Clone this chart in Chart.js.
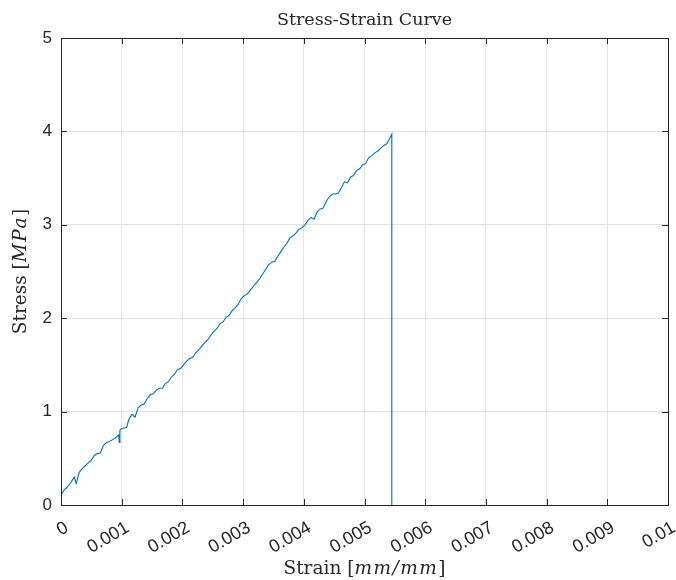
<!DOCTYPE html>
<html>
<head>
<meta charset="utf-8">
<script src="https://cdn.jsdelivr.net/npm/chart.js@4/dist/chart.umd.min.js"></script>
<style>
  body { margin: 0; background: #fff; }
  canvas { display: block; }
</style>
</head>
<body>
<canvas id="stressChart" width="676" height="580"></canvas>
<script>
// strain [mm/mm] and stress [MPa]
const strain = [
    0, 0.00005, 0.0001, 0.00015, 0.0002, 0.00022, 0.00025, 0.0003, 0.00035, 0.0004,
    0.00045, 0.0005, 0.00055, 0.0006, 0.00065, 0.0007, 0.00075, 0.0008, 0.00085, 0.0009,
    0.00095, 0.00096, 0.00097, 0.001, 0.00108, 0.00112, 0.00117, 0.00122, 0.00127, 0.00132,
    0.00137, 0.00142, 0.00147, 0.00152, 0.00157, 0.00162, 0.00167, 0.00172, 0.00177, 0.00182,
    0.00187, 0.00192, 0.00197, 0.00202, 0.00207, 0.00212, 0.00217, 0.00222, 0.00227, 0.00232,
    0.00237, 0.00242, 0.00247, 0.00252, 0.00257, 0.00262, 0.00267, 0.00272, 0.00277, 0.00282,
    0.00287, 0.00292, 0.00297, 0.00302, 0.00307, 0.00312, 0.00317, 0.00322, 0.00327, 0.00332,
    0.00337, 0.00342, 0.00347, 0.00352, 0.00357, 0.00362, 0.00367, 0.00372, 0.00377, 0.00382,
    0.00387, 0.00392, 0.00397, 0.00402, 0.00407, 0.00412, 0.00417, 0.00422, 0.00427, 0.00432,
    0.00437, 0.00442, 0.00447, 0.00452, 0.00457, 0.00462, 0.00467, 0.00472, 0.00477, 0.00482,
    0.00487, 0.00492, 0.00497, 0.00502, 0.00507, 0.00512, 0.00517, 0.00522, 0.00527, 0.00532,
    0.00537, 0.00542, 0.00545, 0.00545
];
const stress = [
    0.11, 0.16, 0.19, 0.23, 0.28, 0.30, 0.23, 0.35, 0.39, 0.42,
    0.45, 0.48, 0.53, 0.55, 0.56, 0.64, 0.67, 0.68, 0.70, 0.72,
    0.75, 0.67, 0.80, 0.82, 0.83, 0.92, 0.97, 0.94, 1.04, 1.07,
    1.08, 1.14, 1.18, 1.19, 1.23, 1.25, 1.25, 1.30, 1.32, 1.37,
    1.40, 1.45, 1.46, 1.50, 1.54, 1.57, 1.58, 1.63, 1.66, 1.70,
    1.74, 1.77, 1.82, 1.86, 1.89, 1.94, 1.96, 2.01, 2.03, 2.08,
    2.11, 2.15, 2.21, 2.24, 2.26, 2.30, 2.34, 2.38, 2.42, 2.47,
    2.52, 2.57, 2.60, 2.61, 2.66, 2.71, 2.76, 2.80, 2.86, 2.88,
    2.91, 2.95, 2.97, 3.00, 3.05, 3.08, 3.06, 3.14, 3.17, 3.18,
    3.25, 3.30, 3.33, 3.33, 3.34, 3.40, 3.46, 3.45, 3.51, 3.53,
    3.58, 3.60, 3.64, 3.66, 3.72, 3.74, 3.77, 3.79, 3.82, 3.85,
    3.87, 3.93, 3.97, 0
];
const xTicks = [0, 0.001, 0.002, 0.003, 0.004, 0.005, 0.006, 0.007, 0.008, 0.009, 0.01];
const yTicks = [0, 1, 2, 3, 4, 5];

const axisColor = '#262626';
const serif = '"DejaVu Serif", "Liberation Serif", serif';
const sans = '"Liberation Sans", Arial, sans-serif';

// draw text pieces one after another (normal + italic for the math parts)
function drawPieces(ctx, pieces, size) {
    const setFont = p => {
        ctx.font = (p.italic ? 'italic ' : '') + size + 'px ' + serif;
        ctx.letterSpacing = p.italic ? '1.5px' : '0px';
    };
    let total = 0;
    pieces.forEach(p => {
        setFont(p);
        p.w = ctx.measureText(p.text).width;
        total += p.w;
    });
    let x = -total / 2;
    pieces.forEach(p => {
        setFont(p);
        ctx.fillText(p.text, x, 0);
        x += p.w;
    });
    ctx.letterSpacing = '0px';
}

// MATLAB-ish frame: box, inward ticks, title and axis labels
const matlabFrame = {
    id: 'matlabFrame',
    afterDraw(chart) {
        const { ctx, chartArea: a, scales } = chart;
        ctx.save();
        ctx.strokeStyle = axisColor;
        ctx.lineWidth = 1;
        ctx.beginPath();
        xTicks.forEach(t => {
            const px = Math.round(scales.x.getPixelForValue(t)) + 0.5;
            ctx.moveTo(px, a.bottom); ctx.lineTo(px, a.bottom - 6);
            ctx.moveTo(px, a.top); ctx.lineTo(px, a.top + 6);
        });
        yTicks.forEach(t => {
            const py = Math.round(scales.y.getPixelForValue(t)) + 0.5;
            ctx.moveTo(a.left, py); ctx.lineTo(a.left + 6, py);
            ctx.moveTo(a.right, py); ctx.lineTo(a.right - 6, py);
        });
        ctx.stroke();
        ctx.strokeRect(Math.round(a.left) + 0.5, Math.round(a.top) + 0.5,
            Math.round(a.right - a.left), Math.round(a.bottom - a.top));

        ctx.fillStyle = axisColor;
        ctx.textBaseline = 'middle';
        ctx.textAlign = 'left';
        const cx = (a.left + a.right) / 2;

        ctx.save();
        ctx.translate(cx, 20);
        drawPieces(ctx, [{ text: 'Stress-Strain Curve' }], 17.5);
        ctx.restore();

        ctx.save();
        ctx.translate(cx, 569);
        drawPieces(ctx, [{ text: 'Strain ' }, { text: '[' }, { text: 'mm/mm', italic: true }, { text: ']' }], 18.5);
        ctx.restore();

        ctx.save();
        ctx.translate(21, (a.top + a.bottom) / 2);
        ctx.rotate(-Math.PI / 2);
        drawPieces(ctx, [{ text: 'Stress ' }, { text: '[' }, { text: 'MPa', italic: true }, { text: ']' }], 18.5);
        ctx.restore();

        ctx.restore();
    }
};

new Chart(document.getElementById('stressChart'), {
    type: 'scatter',
    data: {
        datasets: [{
            data: strain.map((s, i) => ({ x: s, y: stress[i] })),
            showLine: true,
            borderColor: '#0072BD',
            borderWidth: 1.1,
            pointRadius: 0,
            tension: 0
        }]
    },
    options: {
        responsive: false,
        animation: false,
        layout: { padding: { top: 38, right: 8, left: 0, bottom: 0 } },
        plugins: {
            legend: { display: false },
            tooltip: { enabled: false }
        },
        scales: {
            x: {
                type: 'linear',
                min: 0,
                max: 0.01,
                afterFit: scale => {
                    scale.height = 75;
                    scale.paddingLeft = 0;
                    scale.paddingRight = 0;
                },
                afterBuildTicks: scale => { scale.ticks = xTicks.map(v => ({ value: v })); },
                grid: { color: '#e3e3e3', drawTicks: false },
                border: { display: false },
                ticks: {
                    color: axisColor,
                    font: { family: sans, size: 18 },
                    minRotation: 30,
                    maxRotation: 30,
                    padding: 12,
                    labelOffset: 6,
                    callback: v => String(Number(v.toFixed(3)))
                }
            },
            y: {
                min: 0,
                max: 5,
                afterFit: scale => { scale.width = 61; },
                afterBuildTicks: scale => { scale.ticks = yTicks.map(v => ({ value: v })); },
                grid: { color: '#e3e3e3', drawTicks: false },
                border: { display: false },
                ticks: {
                    color: axisColor,
                    font: { family: sans, size: 17 },
                    padding: 9
                }
            }
        }
    },
    plugins: [matlabFrame]
});
</script>
</body>
</html>
